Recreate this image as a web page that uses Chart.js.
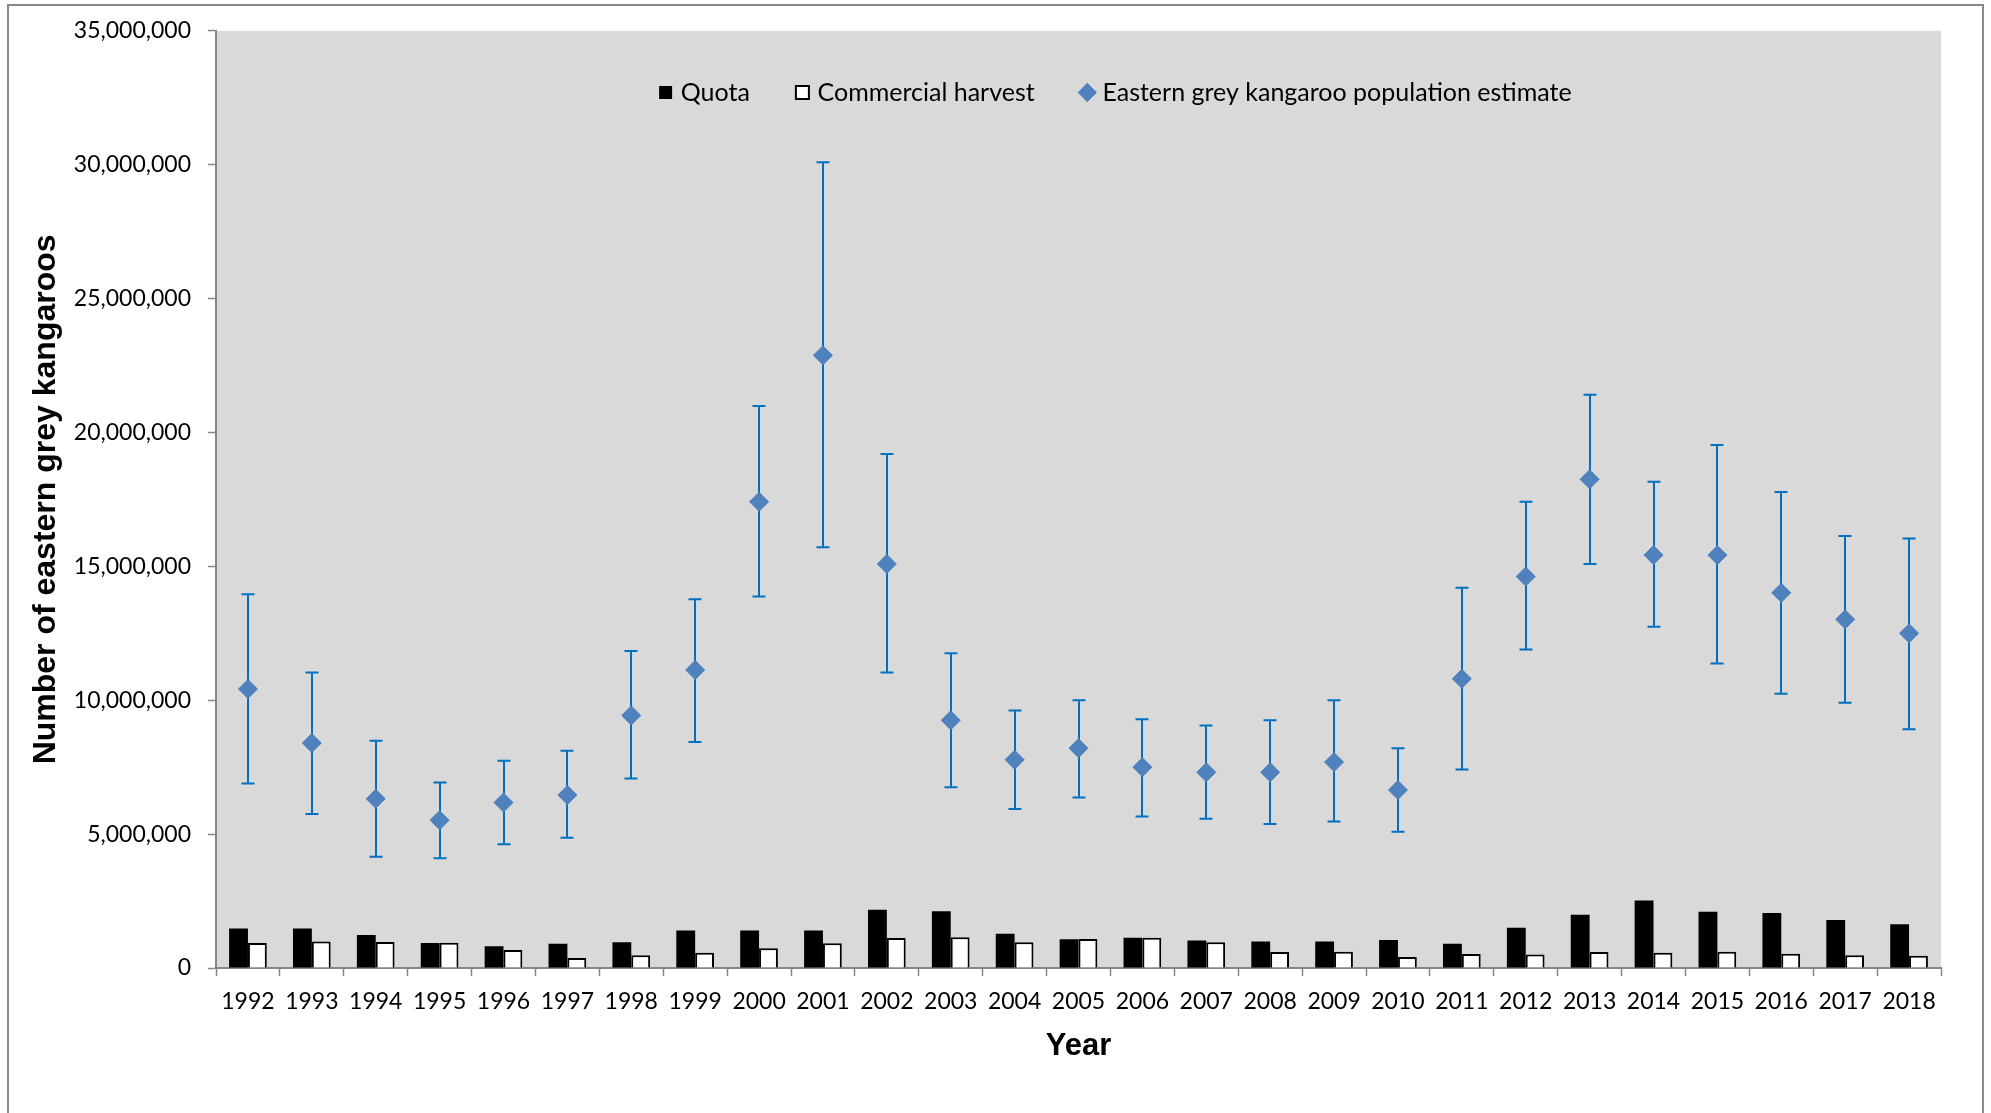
<!DOCTYPE html>
<html>
<head>
<meta charset="utf-8">
<script src="https://cdn.jsdelivr.net/npm/chart.js@4.4.1/dist/chart.umd.min.js"></script>
<style>
  html, body { margin: 0; padding: 0; background: #ffffff; overflow: hidden; }
  #wrap { position: relative; width: 1991px; height: 1113px; }
  #frame { position: absolute; left: 7px; top: 4px; width: 1977px; height: 1200px;
           border: 2px solid #8a8a8a; box-sizing: border-box; pointer-events: none; }
  #wrap canvas { position: absolute; left: 0; top: 0; }
</style>
</head>
<body>
<div id="wrap">
  <canvas id="c" width="1991" height="1113"></canvas>
  <div id="frame"></div>
</div>
<script>
// ---- Data ----
const years = ['1992','1993','1994','1995','1996','1997','1998','1999','2000','2001','2002','2003','2004','2005','2006','2007','2008','2009','2010','2011','2012','2013','2014','2015','2016','2017','2018'];

const quota = [1476000,1476000,1230000,930000,810000,910000,960000,1400000,1400000,1400000,2180000,2120000,1280000,1070000,1130000,1030000,990000,990000,1050000,910000,1500000,1990000,2520000,2100000,2050000,1790000,1630000];

const commercialHarvest = [930000,990000,970000,940000,670000,370000,480000,570000,740000,920000,1120000,1150000,960000,1080000,1130000,960000,600000,610000,410000,520000,500000,600000,570000,610000,530000,480000,460000];

const populationEstimate = [10420000,8400000,6320000,5520000,6180000,6460000,9430000,11130000,17410000,22880000,15090000,9250000,7780000,8210000,7500000,7310000,7310000,7690000,6650000,10800000,14620000,18250000,15420000,15420000,14010000,13020000,12500000];

const estimateUpper = [13960000,11040000,8490000,6930000,7740000,8110000,11840000,13770000,20990000,30090000,19200000,11750000,9620000,10000000,9290000,9060000,9250000,10000000,8210000,14200000,17410000,21410000,18160000,19530000,17780000,16130000,16040000];

const estimateLower = [6890000,5750000,4150000,4100000,4620000,4860000,7080000,8440000,13870000,15710000,11040000,6750000,5940000,6370000,5660000,5570000,5380000,5470000,5090000,7410000,11890000,15090000,12740000,11370000,10240000,9910000,8920000];

const yTickMax = 35000000;
const yTickStep = 5000000;

// ---- Plugins ----
const plotBackground = {
  id: 'plotBackground',
  beforeDraw(chart) {
    const {ctx, chartArea: a} = chart;
    ctx.save();
    ctx.fillStyle = '#d9d9d9';
    ctx.fillRect(a.left, a.top, a.right - a.left, a.bottom - a.top);
    ctx.restore();
  }
};

const errorBars = {
  id: 'errorBars',
  beforeDatasetDraw(chart, args) {
    if (args.index !== 2) return;
    const {ctx} = chart;
    const yScale = chart.scales.y;
    const meta = chart.getDatasetMeta(2);
    ctx.save();
    ctx.strokeStyle = '#0070c0';
    ctx.lineWidth = 2;
    const cap = 6.5;
    meta.data.forEach((pt, i) => {
      const x = Math.round(pt.x);
      const yHi = yScale.getPixelForValue(estimateUpper[i]);
      const yLo = yScale.getPixelForValue(estimateLower[i]);
      ctx.beginPath();
      ctx.moveTo(x, yHi); ctx.lineTo(x, yLo);
      ctx.moveTo(x - cap, yHi); ctx.lineTo(x + cap, yHi);
      ctx.moveTo(x - cap, yLo); ctx.lineTo(x + cap, yLo);
      ctx.stroke();
    });
    ctx.restore();
  }
};

const LEG_PAD = 50;
const LEG_FONT = 25;
const legendPlacer = {
  id: 'legendPlacer',
  afterLayout(chart) {
    const lg = chart.legend;
    if (!lg) return;
    const w = lg.width;
    lg.left = 663 - LEG_PAD;
    lg.right = lg.left + w;
    lg.top = 92.5 - LEG_FONT / 2 - LEG_PAD;
    lg.bottom = lg.top + 80;
  }
};

// ---- Chart ----
const ctx = document.getElementById('c').getContext('2d');
new Chart(ctx, {
  data: {
    labels: years,
    datasets: [
      {
        type: 'bar',
        label: 'Quota',
        data: quota,
        backgroundColor: '#000000',
        borderColor: '#000000',
        borderWidth: 0,
        pointStyle: 'rect',
        categoryPercentage: 0.59,
        barPercentage: 1.0,
        order: 2
      },
      {
        type: 'bar',
        label: 'Commercial harvest',
        data: commercialHarvest,
        backgroundColor: '#ffffff',
        borderColor: '#000000',
        borderWidth: 2,
        pointStyle: 'rect',
        categoryPercentage: 0.59,
        barPercentage: 1.0,
        order: 2
      },
      {
        type: 'line',
        label: 'Eastern grey kangaroo population estimate',
        data: populationEstimate,
        showLine: false,
        pointStyle: 'rectRot',
        pointRadius: 9.5,
        pointHoverRadius: 9.5,
        pointBackgroundColor: '#4f81bd',
        pointBorderColor: '#4f81bd',
        pointBorderWidth: 1,
        backgroundColor: '#4f81bd',
        borderColor: '#4f81bd',
        borderWidth: 1,
        order: 1
      }
    ]
  },
  options: {
    responsive: false,
    animation: false,
    events: [],
    layout: { padding: { left: 0, top: 27, right: 50, bottom: 0 } },
    plugins: {
      tooltip: { enabled: false },
      legend: {
        position: 'top',
        align: 'start',
        maxHeight: 0.001,
        labels: {
          usePointStyle: true,
          boxWidth: 5.2,
          boxHeight: 13,
          padding: LEG_PAD,
          color: '#000000',
          font: { family: 'Lato', size: LEG_FONT },
          sort: (a, b) => a.datasetIndex - b.datasetIndex
        }
      }
    },
    scales: {
      x: {
        type: 'category',
        offset: true,
        grid: {
          offset: true,
          drawOnChartArea: false,
          drawTicks: true,
          tickLength: 8,
          tickColor: '#868686',
          tickWidth: 1.5
        },
        border: { display: true, color: '#868686', width: 2 },
        ticks: {
          color: '#000000',
          font: { family: 'Lato', size: 23 },
          padding: 12,
          autoSkip: false,
          maxRotation: 0,
          minRotation: 0
        },
        title: {
          display: true,
          text: 'Year',
          color: '#000000',
          font: { family: 'Liberation Sans', size: 31, weight: 'bold' },
          padding: { top: 0, bottom: 48 }
        },
        afterFit(scale) { scale.height = 145; }
      },
      y: {
        type: 'linear',
        min: 0,
        max: yTickMax,
        grid: {
          drawOnChartArea: false,
          drawTicks: true,
          tickLength: 8,
          tickColor: '#868686',
          tickWidth: 1.5
        },
        border: { display: true, color: '#868686', width: 2 },
        ticks: {
          stepSize: yTickStep,
          color: '#000000',
          font: { family: 'Lato', size: 23 },
          padding: 17,
          callback: (v) => Number(v).toLocaleString('en-US')
        },
        title: {
          display: true,
          text: 'Number of eastern grey kangaroos',
          color: '#000000',
          font: { family: 'Liberation Sans', size: 32, weight: 'bold' },
          padding: { top: 27, bottom: 0 }
        },
        afterFit(scale) { scale.width = 216; }
      }
    }
  },
  plugins: [plotBackground, errorBars, legendPlacer]
});
</script>
</body>
</html>
